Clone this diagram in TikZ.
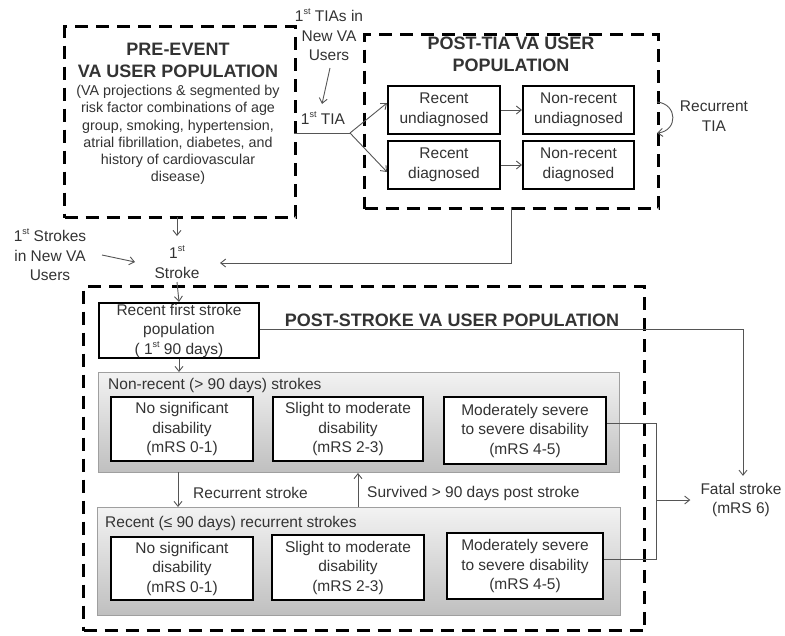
\documentclass[tikz,border=0pt]{standalone}
\usepackage{fontspec}
\setmainfont{Liberation Sans}
\usetikzlibrary{arrows.meta}
\definecolor{txtc}{HTML}{333333}
\definecolor{lnc}{HTML}{555555}
\newcommand{\mysup}[1]{\raisebox{0.45em}{\fontsize{9}{9}\selectfont #1}}
\begin{document}
\begin{tikzpicture}[x=1pt,y=-1pt,
  txt/.style={text=txtc, font=\fontsize{15.5}{19.5}\selectfont, align=center, inner sep=0pt},
  small/.style={text=txtc, font=\fontsize{14.3}{17.2}\selectfont, align=center, inner sep=0pt},
  ttl/.style={text=txtc, font=\fontsize{18}{22}\selectfont\bfseries, align=center, inner sep=0pt},
  dbox/.style={draw=black, line width=3pt, dash pattern=on 13pt off 8pt, inner sep=0pt, anchor=north west},
  sbox/.style={draw=black, line width=2pt, fill=white, inner sep=0pt, anchor=north west},
  grp/.style={draw=gray!75, line width=1pt, top color=gray!10, bottom color=gray!50, inner sep=0pt, anchor=north west},
  conn/.style={draw=lnc, line width=0.9pt},
  arr/.style={conn, -{Straight Barb[length=5pt,width=8pt]}},
]
\useasboundingbox (0,0) rectangle (785,635);

% ---------- pre-event
\node[dbox, minimum width=231pt, minimum height=191pt] (pre) at (63,25) {};
\node[ttl] (preT) at (178,60) {PRE-EVENT\\VA USER POPULATION};
\node[small] (preS) at (178,135) {(VA projections \& segmented by\\risk factor combinations of age\\group, smoking, hypertension,\\atrial fibrillation, diabetes, and\\history of cardiovascular\\disease)};

% ---------- post-TIA
\node[dbox, minimum width=294pt, minimum height=174pt] (tia) at (363,33) {};
\node[ttl] (tiaT) at (511,54) {POST-TIA VA USER\\POPULATION};
\node[sbox, minimum width=112pt, minimum height=48pt] (ru) at (387,85) {};
\node[txt] at (ru.center) {Recent\\undiagnosed};
\node[sbox, minimum width=111pt, minimum height=48pt] (nu) at (522,85) {};
\node[txt] at (nu.center) {Non-recent\\undiagnosed};
\node[sbox, minimum width=112pt, minimum height=48pt] (rd) at (387,140) {};
\node[txt] at (rd.center) {Recent\\diagnosed};
\node[sbox, minimum width=111pt, minimum height=48pt] (nd) at (522,140) {};
\node[txt] at (nd.center) {Non-recent\\diagnosed};
\draw[arr] (ru.east) -- (nu.west);
\draw[arr] (rd.east) -- (nd.west);

\node[txt] (newtia) at (329,35) {1\mysup{st} TIAs in\\New VA\\Users};
\node[txt] (firsttia) at (323,118) {1\mysup{st} TIA};
\coordinate (br) at (350,133);
\coordinate (preR) at (294,133);
\draw[conn] (preR) -- (br);
\draw[arr] (br) -- (ru.west |- 0,103);
\draw[arr] (br) -- (rd.west |- 0,172);
\coordinate (ntA) at (330,68);
\coordinate (ntB) at (322,104);
\draw[arr] (ntA) -- (ntB);

\coordinate (rtA) at (657,102);
\coordinate (rtB) at (657,133);
\draw[arr] (rtA) .. controls (678,104) and (678,131) .. (rtB);
\node[txt] (rtia) at (714,116) {Recurrent\\TIA};

% ---------- first stroke
\node[txt] (fs) at (177,262) {1\mysup{st}\\Stroke};
\node[txt] (newst) at (50,255) {1\mysup{st} Strokes\\in New VA\\Users};
\coordinate (preB) at (177,217);
\coordinate (fsT) at (177,236);
\draw[arr] (preB) -- (fsT);
\coordinate (nsA) at (102,255);
\coordinate (nsB) at (135,262);
\draw[arr] (nsA) -- (nsB);
\coordinate (tiaB) at (511,207);
\coordinate (tiaC) at (511,263);
\coordinate (fsR) at (220,263);
\draw[arr] (tiaB) -- (tiaC) -- (fsR);

% ---------- post-stroke
\node[dbox, minimum width=561pt, minimum height=344pt] (ps) at (82,285) {};
\node[ttl] (psT) at (452,320) {POST-STROKE VA USER POPULATION};
\node[sbox, minimum width=160pt, minimum height=55pt] (rf) at (98,302) {};
\node[txt] at (rf.center) {Recent first stroke\\population\\( 1\mysup{st} 90 days)};
\coordinate (fsB) at (177,282);
\draw[arr] (fsB) -- (rf.north);

% non-recent group
\node[grp, minimum width=521pt, minimum height=100pt] (g1) at (98,372) {};
\node[txt, anchor=west] (g1L) at (108,385) {Non-recent (> 90 days) strokes};
\node[sbox, minimum width=142pt, minimum height=64pt] (a1) at (110,396) {};
\node[txt] at (a1.center) {No significant\\disability\\(mRS 0-1)};
\node[sbox, minimum width=150pt, minimum height=64pt] (b1) at (272,396) {};
\node[txt] at (b1.center) {Slight to moderate\\disability\\(mRS 2-3)};
\node[sbox, minimum width=162pt, minimum height=67pt] (c1) at (443,396) {};
\node[txt] at (c1.center) {Moderately severe\\to severe disability\\(mRS 4-5)};
\draw[arr] (rf.south) -- (rf.south |- g1.north);

% recurrent group
\node[grp, minimum width=523pt, minimum height=108pt] (g2) at (97,507) {};
\node[txt, anchor=west] (g2L) at (105,523) {Recent (≤ 90 days) recurrent strokes};
\node[sbox, minimum width=142pt, minimum height=63pt] (a2) at (110,536) {};
\node[txt] at (a2.center) {No significant\\disability\\(mRS 0-1)};
\node[sbox, minimum width=152pt, minimum height=65pt] (b2) at (271,534) {};
\node[txt] at (b2.center) {Slight to moderate\\disability\\(mRS 2-3)};
\node[sbox, minimum width=156pt, minimum height=66pt] (c2) at (446,532) {};
\node[txt] at (c2.center) {Moderately severe\\to severe disability\\(mRS 4-5)};

\coordinate (rsA) at (178,472);
\coordinate (svA) at (358,507);
\draw[arr] (rsA) -- (rsA |- g2.north);
\draw[arr] (svA) -- (svA |- g1.south);
\node[txt, anchor=west] (rsL) at (193,493) {Recurrent stroke};
\node[txt, anchor=west] (svL) at (367,493) {Survived > 90 days post stroke};

% fatal
\node[txt] (fatal) at (741,500) {Fatal stroke\\(mRS 6)};
\coordinate (fx) at (743,329);
\draw[arr] (rf.east |- 0,329) -- (fx) -- (fx |- fatal.north) [shorten >=7pt];
\coordinate (j1) at (656,423);
\coordinate (j2) at (656,559);
\coordinate (j3) at (656,500);
\draw[conn] (c1.east |- j1) -- (j1) -- (j2) -- (c2.east |- j2);
\draw[arr, shorten >=10pt] (j3) -- (fatal.west |- j3);
\end{tikzpicture}
\end{document}
